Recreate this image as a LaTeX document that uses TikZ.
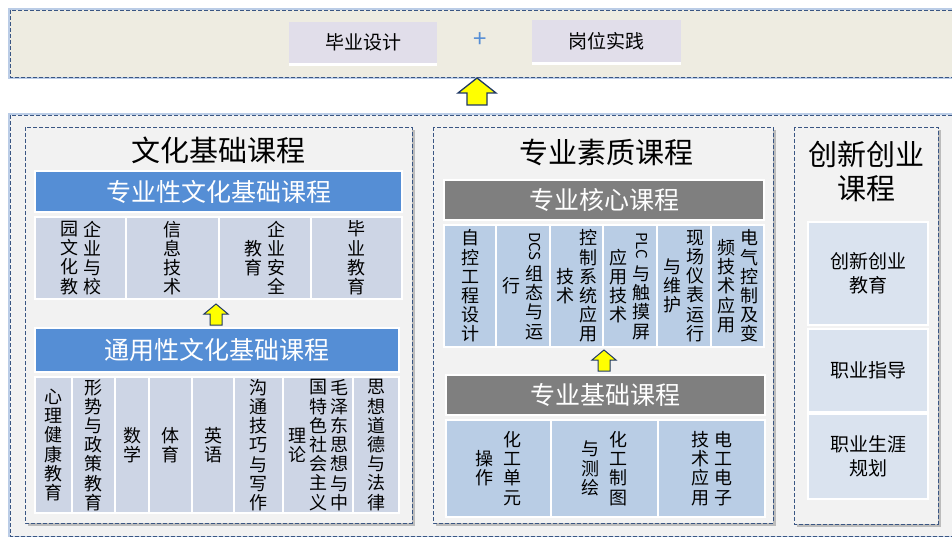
\documentclass[tikz,border=0pt]{standalone}
\usepackage{fontspec}
\usepackage{graphicx}
\setmainfont{Noto Sans CJK SC}
\definecolor{topfill}{HTML}{EEECE1}
\definecolor{outerfill}{HTML}{F2F2F2}
\definecolor{dashc}{HTML}{3A5683}
\definecolor{glowc}{HTML}{9DB7DC}
\definecolor{hdrblue}{HTML}{558ED5}
\definecolor{hdrgray}{HTML}{7F7F7F}
\definecolor{cellA}{HTML}{CDD5E5}
\definecolor{cellB}{HTML}{B9CDE5}
\definecolor{cellC}{HTML}{DAE3EF}
\definecolor{topbox}{HTML}{E1DEEA}
\definecolor{arrowy}{HTML}{FFFF00}
\definecolor{arrowb}{HTML}{1F3864}
\newcommand{\vcol}[1]{$\vcenter{\baselineskip=19.2pt\lineskiplimit=-50pt\lineskip=0pt\let\\\cr\halign{\hfil##\hfil\cr#1\crcr}}$}
\newcommand{\rlat}[1]{\raisebox{15pt}[15pt][3pt]{\fontsize{15}{15}\selectfont\rotatebox{-90}{#1}}}
\newcommand{\vg}{\hspace{5pt}}
\newcommand{\vgw}{\hspace{10pt}}
\begin{document}
\begin{tikzpicture}[x=1pt,y=-1pt,
  glowline/.style={draw=glowc, line width=4pt, opacity=0.7},
  outerbox/.style={draw=dashc, dash pattern=on 4pt off 2pt, line width=0.9pt},
  panel/.style={fill=outerfill, draw=dashc, dash pattern=on 4pt off 2pt, line width=0.9pt},
  pshadow/.style={fill=black, opacity=0.22},
  topbx/.style={fill=topbox, inner sep=0pt, font=\fontsize{19}{22}\selectfont},
  ttl/.style={inner sep=0pt, align=center, font=\fontsize{29}{34}\selectfont},
  hdrA/.style={fill=hdrblue, draw=white, line width=1.5pt, text=white, inner sep=0pt, font=\fontsize{25}{28}\selectfont},
  hdrB/.style={hdrA, fill=hdrgray},
  cellL/.style={fill=cellA, draw=white, line width=2.5pt, inner sep=0pt, font=\fontsize{18}{19.2}\selectfont},
  cellM/.style={cellL, fill=cellB},
  cellR/.style={fill=cellC, draw=white, line width=2.5pt, inner sep=0pt, align=center, font=\fontsize{19}{24}\selectfont},
  yarrow/.style={fill=arrowy, draw=arrowb, line width=1.3pt, line join=miter}
]
\useasboundingbox (0,0) rectangle (952,537);
\clip (0,0) rectangle (952,537);
\fill[white] (0,0) rectangle (952,537);

% ---------- top band ----------
\draw[glowline] (10,10) rectangle (975,77);
\draw[outerbox, fill=topfill] (10,10) rectangle (975,77);
\fill[white] (289,25) rectangle (437,66);
\fill[white] (532,23) rectangle (681,65);
\node[topbx, minimum width=148pt, minimum height=41pt] (tb1) at (363,42.5) {毕业设计};
\node[topbx, minimum width=149pt, minimum height=42pt] (tb2) at (606.5,41) {岗位实践};
\node[text=hdrblue, inner sep=0pt, font=\fontsize{24}{24}\selectfont] (plus) at (480,40) {+};

% big arrow
\draw[yarrow] (477,78) -- (496,93) -- (487,93) -- (487,105) -- (467,105) -- (467,93) -- (458,93) -- cycle;

% ---------- bottom band ----------
\draw[glowline] (10,115) rectangle (975,536);
\draw[outerbox, fill=outerfill] (10,115) rectangle (975,536);

% panels
\fill[pshadow] (28,130) rectangle (415,526);
\draw[panel] (25,127) rectangle (412,523);
\fill[pshadow] (436,130) rectangle (776,526);
\draw[panel] (433,127) rectangle (773,523);
\fill[pshadow] (797,130) rectangle (941,527);
\draw[panel] (794,127) rectangle (938,524);

% ---------- left panel ----------
\node[ttl] (tL) at (218,150) {文化基础课程};
\node[hdrA, minimum width=367pt, minimum height=41pt] (h1) at (218.5,191.5) {专业性文化基础课程};
\node[cellL, minimum width=91pt, minimum height=82pt] (r1a) at (80.5,258) {\vcol{园\\文\\化\\教}\vg\vcol{企\\业\\与\\校}};
\node[cellL, minimum width=93pt, minimum height=82pt] (r1b) at (172.5,258) {\vcol{信\\息\\技\\术}};
\node[cellL, minimum width=92pt, minimum height=82pt] (r1c) at (265,258) {\vcol{教\\育}\vg\vcol{企\\业\\安\\全}};
\node[cellL, minimum width=91pt, minimum height=82pt] (r1d) at (356.5,258) {\vcol{毕\\业\\教\\育}};

\draw[yarrow, line width=1pt] (216,304) -- (228,314) -- (222,314) -- (222,325) -- (210,325) -- (210,314) -- (204,314) -- cycle;

\node[hdrA, minimum width=364pt, minimum height=44pt] (h2) at (217,350) {通用性文化基础课程};
\node[cellL, minimum width=37pt, minimum height=136pt] (r2a) at (53.5,445) {\vcol{心\\理\\健\\康\\教\\育}};
\node[cellL, minimum width=43pt, minimum height=136pt] (r2b) at (93.5,445) {\vcol{形\\势\\与\\政\\策\\教\\育}};
\node[cellL, minimum width=34pt, minimum height=136pt] (r2c) at (132,445) {\vcol{数\\学}};
\node[cellL, minimum width=43pt, minimum height=136pt] (r2d) at (170.5,445) {\vcol{体\\育}};
\node[cellL, minimum width=42pt, minimum height=136pt] (r2e) at (213,445) {\vcol{英\\语}};
\node[cellL, minimum width=49pt, minimum height=136pt] (r2f) at (258.5,445) {\vcol{沟\\通\\技\\巧\\与\\写\\作}};
\node[cellL, minimum width=70pt, minimum height=136pt] (r2g) at (318,445) {\vcol{理\\论}\hspace{3pt}\vcol{国\\特\\色\\社\\会\\主\\义}\hspace{3pt}\vcol{毛\\泽\\东\\思\\想\\与\\中}};
\node[cellL, minimum width=46pt, minimum height=136pt] (r2h) at (376,445) {\vcol{思\\想\\道\\德\\与\\法\\律}};

% ---------- middle panel ----------
\node[ttl] (tM) at (606,152) {专业素质课程};
\node[hdrB, minimum width=320pt, minimum height=40pt] (h3) at (604,200) {专业核心课程};
\node[cellM, minimum width=52pt, minimum height=122pt] (r3a) at (470,286) {\vcol{自\\控\\工\\程\\设\\计}};
\node[cellM, minimum width=54pt, minimum height=122pt] (r3b) at (523,286) {\vcol{行}\vg\vcol{\rlat{DCS}\\\noalign{\kern14pt}组\\态\\与\\运}};
\node[cellM, minimum width=53pt, minimum height=122pt] (r3c) at (576.5,286) {\vcol{技\\术}\vg\vcol{控\\制\\系\\统\\应\\用}};
\node[cellM, minimum width=54pt, minimum height=122pt] (r3d) at (630,286) {\vcol{应\\用\\技\\术}\vg\vcol{\rlat{PLC}\\\noalign{\kern14pt}与\\触\\摸\\屏}};
\node[cellM, minimum width=54pt, minimum height=122pt] (r3e) at (684,286) {\vcol{与\\维\\护}\vg\vcol{现\\场\\仪\\表\\运\\行}};
\node[cellM, minimum width=53pt, minimum height=122pt] (r3f) at (737.5,286) {\vcol{频\\技\\术\\应\\用}\vg\vcol{电\\气\\控\\制\\及\\变}};

\draw[yarrow, line width=1pt] (604,350) -- (616,360) -- (610,360) -- (610,371) -- (598,371) -- (598,360) -- (592,360) -- cycle;

\node[hdrB, minimum width=319pt, minimum height=40pt] (h4) at (605.5,395) {专业基础课程};
\node[cellM, minimum width=105pt, minimum height=97pt] (r4a) at (498.5,468.5) {\vcol{操\\作}\vgw\vcol{化\\工\\单\\元}};
\node[cellM, minimum width=107pt, minimum height=97pt] (r4b) at (604.5,468.5) {\vcol{与\\测\\绘}\vgw\vcol{化\\工\\制\\图}};
\node[cellM, minimum width=107pt, minimum height=97pt] (r4c) at (711.5,468.5) {\vcol{技\\术\\应\\用}\vg\vcol{电\\工\\电\\子}};

% ---------- right panel ----------
\node[ttl] (tR) at (866,171) {创新创业\\课程};
\node[cellR, minimum width=120pt, minimum height=103pt] (c1) at (868,273.5) {创新创业\\教育};
\node[cellR, minimum width=120pt, minimum height=83pt] (c2) at (868,370.5) {职业指导};
\node[cellR, minimum width=120pt, minimum height=85pt] (c3) at (868,456.5) {职业生涯\\规划};
\end{tikzpicture}
\end{document}
